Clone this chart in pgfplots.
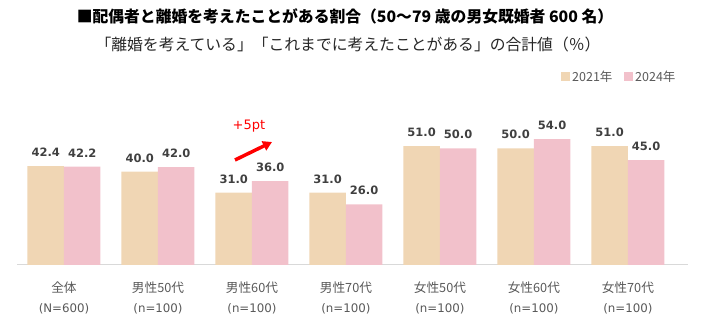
\documentclass[border=0pt]{standalone}
\usepackage{fontspec}
\setmainfont{Noto Sans CJK JP}
\newfontfamily\numfont{DejaVu Sans}
\usepackage{pgfplots}
\pgfplotsset{compat=1.18}
\usetikzlibrary{arrows.meta}
\definecolor{tanbar}{RGB}{240,214,180}
\definecolor{pinkbar}{RGB}{242,193,203}
\definecolor{labgray}{RGB}{89,89,89}
\definecolor{valgray}{RGB}{64,64,64}
\definecolor{axgray}{RGB}{217,217,217}
\newcommand{\nl}[1]{{\numfont\fontsize{11.8}{20}\selectfont #1}}
\begin{document}
\begin{tikzpicture}[x=1pt,y=1pt]
\useasboundingbox (0,0) rectangle (723,329);
\begin{axis}[
  at={(17pt,64pt)}, anchor=south west,
  scale only axis, width=671pt, height=140pt,
  ymin=0, ymax=60, xmin=-0.5, xmax=6.64,
  ybar=0pt, bar width=36.5pt,
  axis x line*=bottom, axis y line=none,
  x axis line style={draw=axgray, line width=1pt, -},
  xtick={0,1,2,3,4,5,6},
  xticklabels={{全体\\\nl{(N=600)}},{男性50代\\\nl{(n=100)}},{男性60代\\\nl{(n=100)}},{男性70代\\\nl{(n=100)}},{女性50代\\\nl{(n=100)}},{女性60代\\\nl{(n=100)}},{女性70代\\\nl{(n=100)}}},
  major tick length=0pt,
  xticklabel style={align=center, text=labgray, font=\fontsize{12.7}{20}\selectfont, yshift=-13pt},
  clip=false,
  nodes near coords,
  nodes near coords style={font=\numfont\bfseries\fontsize{11.5}{12}\selectfont, text=valgray, anchor=south, inner sep=0pt, yshift=9pt,
    /pgf/number format/.cd, fixed, precision=1, zerofill, assume math mode=true},
]
\addplot[fill=tanbar, draw=none] coordinates {(0,42.4) (1,40.0) (2,31.0) (3,31.0) (4,51.0) (5,50.0) (6,51.0)};
\addplot[fill=pinkbar, draw=none] coordinates {(0,42.2) (1,42.0) (2,36.0) (3,26.0) (4,50.0) (5,54.0) (6,45.0)};
\end{axis}
\node[font=\bfseries\fontsize{15.8}{16}\selectfont] at (345,313) {■配偶者と離婚を考えたことがある割合（50～79 歳の男女既婚者 600 名）};
\node[font=\fontsize{15.8}{16}\selectfont, text=black!85] at (348,284) {「離婚を考えている」「これまでに考えたことがある」の合計値（％）};
\fill[tanbar] (560.5,247.5) rectangle (569.5,256.5);
\node[anchor=west, text=labgray, font=\fontsize{12.5}{13}\selectfont, inner sep=0pt] at (572,252) {2021年};
\fill[pinkbar] (623.5,247.5) rectangle (632.5,256.5);
\node[anchor=west, text=labgray, font=\fontsize{12.5}{13}\selectfont, inner sep=0pt] at (635,252) {2024年};
\node[text=red, font=\numfont\fontsize{13}{14}\selectfont] at (249,203) {+5pt};
\draw[red, line width=3.5pt, -{Triangle[length=9pt,width=10pt]}] (235,169) -- (272,187);
\end{tikzpicture}
\end{document}
